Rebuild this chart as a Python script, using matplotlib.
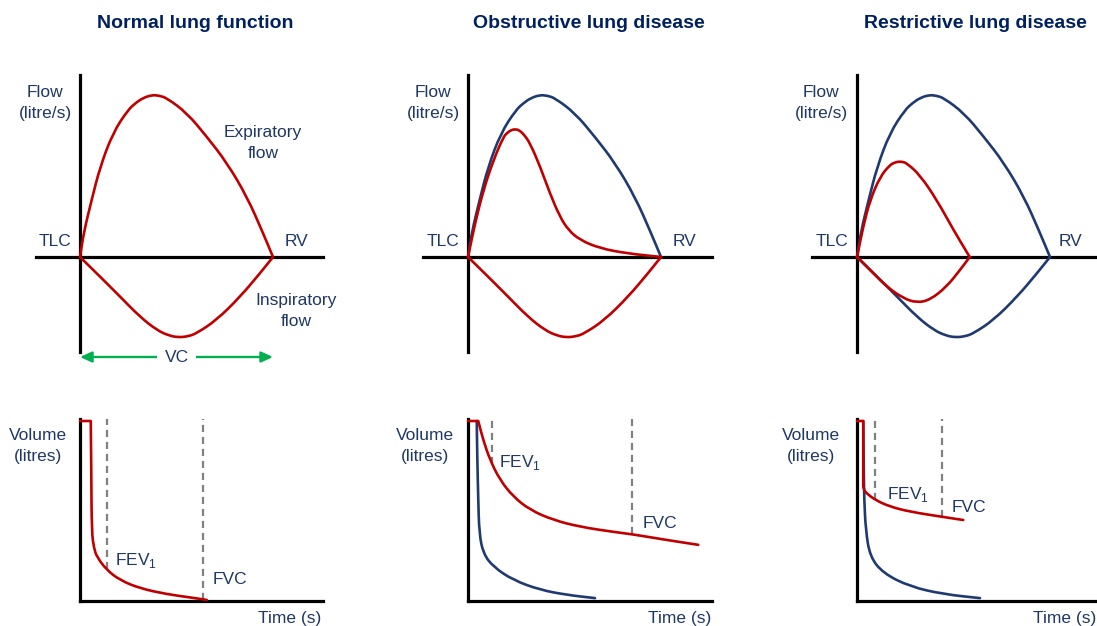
import matplotlib
matplotlib.use("Agg")
import matplotlib.pyplot as plt
from matplotlib.path import Path
from matplotlib.patches import PathPatch

W, H = 1097, 626

RED = "#c00000"
NAVY = "#1f3a70"
TEXT = "#1f3864"
GREEN = "#00b050"
GREY = "#808080"

plt.rcParams["font.family"] = ["Liberation Sans", "DejaVu Sans"]
plt.rcParams["mathtext.fontset"] = "custom"
plt.rcParams["mathtext.rm"] = "Liberation Sans"

# flow-volume loops: volume expired from TLC (litres) vs flow (litre/s)
normal_exp_vol = [0, 0.10, 0.30, 0.52, 0.85, 1.24, 1.45, 1.63, 1.86, 2.05, 2.25, 2.77, 3.29, 3.81, 4.33, 4.74, 5.0]
normal_exp_flow = [0, 1.23, 2.81, 4.44, 6.12, 7.26, 7.62, 7.85, 8.0, 7.97, 7.85, 7.11, 5.93, 4.64, 2.96, 1.19, 0]
normal_insp_vol = [0, 0.52, 1.04, 1.55, 1.99, 2.30, 2.55, 2.80, 3.02, 3.54, 4.15, 4.66, 5.0]
normal_insp_flow = [0, -0.97, -1.96, -2.95, -3.61, -3.88, -3.97, -3.92, -3.77, -3.11, -1.96, -0.81, 0]

obstr_exp_vol = [0, 0.18, 0.40, 0.66, 0.92, 1.02, 1.12, 1.22, 1.32, 1.45, 1.61, 1.87, 2.12, 2.38, 2.60, 2.90, 3.42, 4.11, 5.0]
obstr_exp_flow = [0, 1.65, 3.31, 4.79, 5.94, 6.14, 6.27, 6.31, 6.27, 6.05, 5.61, 4.46, 3.15, 1.99, 1.33, 0.84, 0.43, 0.18, 0]

restr_exp_vol = [0, 0.16, 0.34, 0.60, 0.85, 0.97, 1.07, 1.18, 1.29, 1.63, 2.07, 2.50, 2.92]
restr_exp_flow = [0, 1.50, 2.82, 3.97, 4.54, 4.66, 4.71, 4.70, 4.63, 4.05, 2.81, 1.33, 0]
restr_insp_vol = [0, 0.34, 0.77, 1.20, 1.55, 1.89, 2.32, 2.67, 2.92]
restr_insp_flow = [0, -0.64, -1.47, -2.04, -2.26, -2.12, -1.47, -0.64, 0]

# volume-time curves: time (s) vs volume (litres)
normal_vt_time = [0, 0.43, 0.45, 0.47, 0.56, 0.67, 1.07, 1.6, 2.4, 3.47, 4.4, 5.07]
normal_vt_vol = [5.0, 5.0, 3.64, 1.89, 1.47, 1.23, 0.86, 0.58, 0.35, 0.19, 0.10, 0.03]

obstr_vt_time = [0, 0.41, 0.61, 0.88, 1.28, 1.81, 2.48, 3.41, 4.48, 5.81, 6.61, 7.81, 9.21]
obstr_vt_vol = [5.0, 5.0, 4.47, 3.92, 3.36, 2.90, 2.53, 2.25, 2.06, 1.92, 1.85, 1.71, 1.56]
obstr_ref_time = [0.35, 0.37, 0.41, 0.45, 0.61, 1.01, 1.81, 2.88, 3.95, 5.08]
obstr_ref_vol = [5.0, 4.01, 2.81, 1.88, 1.32, 0.95, 0.58, 0.31, 0.17, 0.08]

restr_vt_time = [0, 0.25, 0.25, 0.30, 0.39, 0.72, 1.32, 2.12, 3.39, 4.25]
restr_vt_vol = [5.0, 5.0, 3.18, 3.06, 2.99, 2.81, 2.62, 2.48, 2.34, 2.25]
restr_ref_time = [0.25, 0.27, 0.29, 0.35, 0.52, 1.05, 2.12, 3.45, 4.92]
restr_ref_vol = [5.0, 3.6, 2.81, 1.97, 1.23, 0.77, 0.40, 0.19, 0.08]

fev1_time = [1.08, 0.97, 0.72]
fev1_end = [0.9, 3.8, 2.81]
fvc_time = [4.92, 6.57, 3.39]
fvc_end = [0.04, 1.86, 2.34]

titles = ["Normal lung function", "Obstructive lung disease", "Restrictive lung disease"]

# pixel scales of the drawing
PX_L, PX_F = 38.6, 20.25   # top: px per litre, px per litre/s
PX_S, PX_V = 25.0, 36.0    # bottom: px per second, px per litre


def add_panel(fig, x0, x1, y0, y1, ox, oy, sx, sy):
    ax = fig.add_axes([x0 / W, 1 - y1 / H, (x1 - x0) / W, (y1 - y0) / H])
    ax.set_xlim((x0 - ox) / sx, (x1 - ox) / sx)
    ax.set_ylim((oy - y1) / sy, (oy - y0) / sy)
    ax.axis("off")
    ax.axhline(0, color="black", lw=2.3, clip_on=False, zorder=2)
    ax.axvline(0, color="black", lw=2.3, clip_on=False, zorder=2)
    return ax


def curve(ax, xs, ys, color, sharp=()):
    # smooth the read points with quadratic segments between midpoints
    pts = list(zip(xs, ys))
    verts, codes = [pts[0]], [Path.MOVETO]
    for i in range(1, len(pts) - 1):
        if i in sharp:
            verts.append(pts[i])
            codes.append(Path.LINETO)
            continue
        m0 = ((pts[i - 1][0] + pts[i][0]) / 2, (pts[i - 1][1] + pts[i][1]) / 2)
        m1 = ((pts[i][0] + pts[i + 1][0]) / 2, (pts[i][1] + pts[i + 1][1]) / 2)
        verts += [m0, pts[i], m1]
        codes += [Path.LINETO, Path.CURVE3, Path.CURVE3]
    verts.append(pts[-1])
    codes.append(Path.LINETO)
    ax.add_patch(PathPatch(Path(verts, codes), fill=False, edgecolor=color, lw=1.9,
                           capstyle="round", joinstyle="round", clip_on=False, zorder=3))


def label(fig, x, y, s, ha="center", **kw):
    kw.setdefault("fontsize", 12.5)
    kw.setdefault("color", TEXT)
    fig.text(x / W, 1 - y / H, s, ha=ha, va="center", linespacing=1.45, **kw)


fig = plt.figure(figsize=(W / 100, H / 100), dpi=100)
fig.patch.set_facecolor("white")

# top row: flow-volume loops
top = [(80, 36, 323), (468, 423, 712), (857, 812, 1097)]
tops = [add_panel(fig, x0, x1, 75, 352, ox, 257, PX_L, PX_F) for ox, x0, x1 in top]

a = tops[0]
curve(a, normal_exp_vol, normal_exp_flow, RED)
curve(a, normal_insp_vol, normal_insp_flow, RED)
vc_y = (257 - 357) / PX_F
a.annotate("", xy=(normal_exp_vol[-1], vc_y), xytext=(0, vc_y), annotation_clip=False,
           arrowprops=dict(arrowstyle="<|-|>,head_length=0.7,head_width=0.32", color=GREEN,
                           lw=1.7, shrinkA=0, shrinkB=0))
a.text(normal_exp_vol[-1] / 2, vc_y, "VC", ha="center", va="center", fontsize=12.5, color=TEXT,
       bbox=dict(facecolor="white", edgecolor="none", pad=5), clip_on=False, zorder=4)

a = tops[1]
curve(a, normal_exp_vol, normal_exp_flow, NAVY)
curve(a, obstr_exp_vol, obstr_exp_flow, RED)
curve(a, normal_insp_vol, normal_insp_flow, RED)

a = tops[2]
curve(a, normal_exp_vol, normal_exp_flow, NAVY)
curve(a, normal_insp_vol, normal_insp_flow, NAVY)
curve(a, restr_exp_vol, restr_exp_flow, RED)
curve(a, restr_insp_vol, restr_insp_flow, RED)

# bottom row: volume-time curves
bottom = [(80, 323), (468, 712), (857, 1097)]
bots = [add_panel(fig, ox, x1, 419, 601, ox, 601, PX_S, PX_V) for ox, x1 in bottom]

curve(bots[0], normal_vt_time, normal_vt_vol, RED, sharp=(1, 2))
curve(bots[1], obstr_ref_time, obstr_ref_vol, NAVY)
curve(bots[1], obstr_vt_time, obstr_vt_vol, RED, sharp=(1,))
curve(bots[2], restr_ref_time, restr_ref_vol, NAVY)
curve(bots[2], restr_vt_time, restr_vt_vol, RED, sharp=(1, 2))

for i, b in enumerate(bots):
    ytop = b.get_ylim()[1]
    b.vlines([fev1_time[i], fvc_time[i]], [fev1_end[i], fvc_end[i]], ytop,
             colors=GREY, lw=1.6, linestyles=(0, (3.2, 2.2)), zorder=1, clip_on=False)

# text
title_x = [195, 589, 975]
for x, t in zip(title_x, titles):
    label(fig, x, 24, t, fontsize=14, fontweight="bold", color="#002060")

for fx, tx, rx in [(45, 55, 296), (433, 443, 684), (821, 832, 1071)]:
    label(fig, fx, 103, "Flow\n(litre/s)")
    label(fig, tx, 242, "TLC")
    label(fig, rx, 242, "RV")

label(fig, 263, 143, "Expiratory\nflow")
label(fig, 296, 311, "Inspiratory\nflow")

for vx, tr in [(38, 321), (425, 711), (811, 1096)]:
    label(fig, vx, 446, "Volume\n(litres)")
    label(fig, tr, 618, "Time (s)", ha="right")

fev = r"FEV$_\mathregular{1}$"
for (fx, fy), (cx, cy) in [((115, 560), (213, 580)), ((499, 462), (643, 523)), ((887, 495), (952, 507))]:
    label(fig, fx, fy, fev, ha="left")
    label(fig, cx, cy, "FVC", ha="left")

fig.savefig("out.png", dpi=100, facecolor="white")
